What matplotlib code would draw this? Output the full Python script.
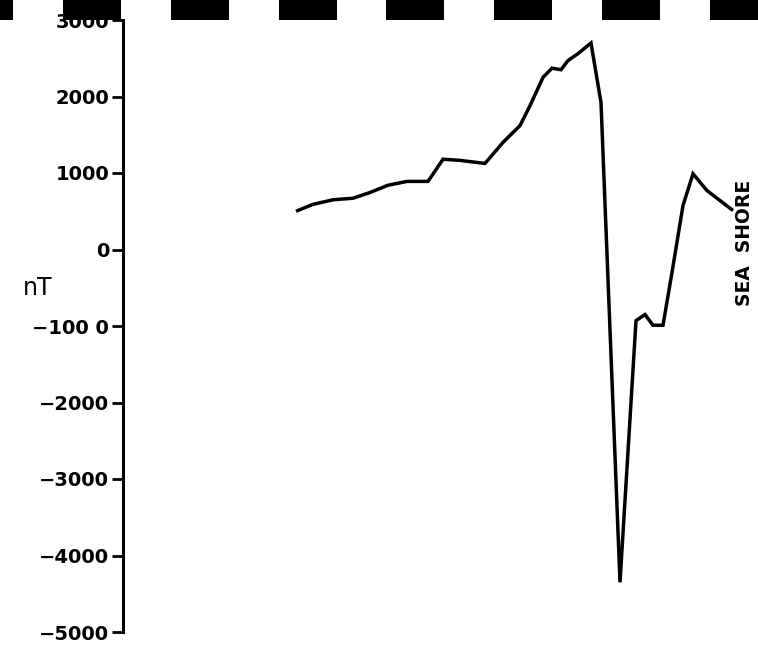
import matplotlib
matplotlib.use("Agg")
import matplotlib.pyplot as plt
from matplotlib.patches import Rectangle

# Magnetic anomaly profile (nT) along the traverse towards the sea shore
distance = [173, 190, 210, 230, 247, 265, 284, 305, 320, 337, 362, 380, 397,
            407, 420, 429, 438, 445, 455, 468, 478, 497, 513, 522, 530, 540,
            549, 560, 570, 584, 610]
anomaly = [500, 590, 650, 670, 745, 840, 890, 890, 1180, 1165, 1125, 1400,
           1620, 1880, 2250, 2370, 2350, 2470, 2560, 2700, 1920, -4350, -930,
           -850, -990, -990, -300, 575, 990, 770, 510]

yticks = [3000, 2000, 1000, 0, -1000, -2000, -3000, -4000, -5000]
ytick_labels = ["3000", "2000", "1000", "0", "\u2212100 0", "\u22122000",
                "\u22123000", "\u22124000", "\u22125000"]

W, H = 758, 647
fig = plt.figure(figsize=(W / 100, H / 100), dpi=100)
ax = fig.add_axes([123 / W, 15 / H, 635 / W, 612 / H])

ax.plot(distance, anomaly, color="black", lw=2.5, solid_joinstyle="miter",
        solid_capstyle="butt")

ax.set_xlim(0, 635)
ax.set_ylim(-5000, 3000)
ax.set_yticks(yticks)
ax.set_yticklabels(ytick_labels, fontsize=14, fontweight="semibold",
                   family="DejaVu Sans")
ax.tick_params(axis="y", direction="out", length=8, width=2, pad=2)
ax.set_xticks([])
for side in ("top", "right", "bottom"):
    ax.spines[side].set_visible(False)
ax.spines["left"].set_linewidth(2.2)

fig.text(38 / W, 1 - 288 / H, "nT", fontsize=17, ha="center", va="center",
         family="DejaVu Sans")
fig.text(745 / W, 1 - 243 / H, "SEA  SHORE", fontsize=13.5, fontweight="bold",
         rotation=90, ha="center", va="center", family="DejaVu Sans")

# dashed scale bar along the top edge
period, width, start = 107.8, 58, 63 - 107.8
for k in range(9):
    x0 = start + k * period
    fig.add_artist(Rectangle((x0 / W, 1 - 20 / H), width / W, 20 / H,
                             transform=fig.transFigure, facecolor="black",
                             edgecolor="none", zorder=5))

fig.savefig("out.png", dpi=100, facecolor="white")
